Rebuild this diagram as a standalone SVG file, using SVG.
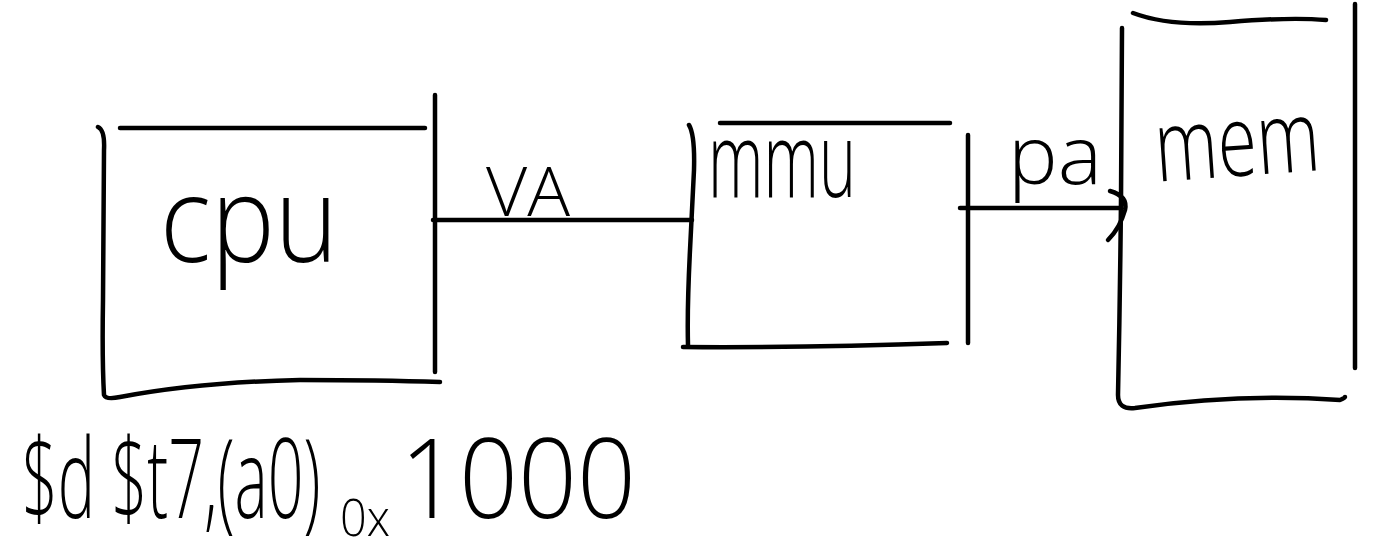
<svg xmlns="http://www.w3.org/2000/svg" width="1392" height="555" viewBox="0 0 1392 555">
<style>
.s{fill:none;stroke:#000;stroke-width:4.5;stroke-linecap:round;stroke-linejoin:round}
.t{font-family:"Open Sans","Liberation Sans",sans-serif;font-weight:300;fill:#000}
</style>
<rect width="1392" height="555" fill="#fff"/>
<g id="cpu">
<path class="s" d="M98,127 Q105,130 104,150 L103,300 Q102,360 104,395 Q106,400 120,397 Q200,382 300,380 Q380,380 440,382"/>
<path class="s" d="M120,128 L425,128"/>
<path class="s" d="M435,95 L435,372"/>
<text class="t" x="160" y="262" font-size="120" textLength="178" lengthAdjust="spacingAndGlyphs">cpu</text>
</g>
<g id="mmu">
<path class="s" d="M689,125 Q695,135 694,170 L690,250 Q687,310 688,345"/>
<path class="s" d="M720,123 L950,123"/>
<path class="s" d="M683,347 Q800,348 947,343"/>
<path class="s" d="M968,135 L968,343"/>
<text class="t" x="708" y="197" font-size="105" textLength="148" lengthAdjust="spacingAndGlyphs">mmu</text>
</g>
<g id="mem">
<path class="s" d="M1133,13 Q1170,27 1230,22 Q1290,17 1326,20"/>
<path class="s" d="M1122,28 L1121,200 Q1120,300 1118,395 Q1118,410 1135,408 Q1240,393 1340,400 Q1345,398 1345,397"/>
<path class="s" d="M1355,4 L1355,368"/>
<text class="t" x="1155" y="176" font-size="100" textLength="165" lengthAdjust="spacingAndGlyphs" transform="rotate(-4 1237 150)">mem</text>
</g>
<g id="connectors">
<path class="s" d="M433,220 L692,220"/>
<text class="t" x="486" y="216" font-size="68" textLength="84" lengthAdjust="spacingAndGlyphs">VA</text>
<path class="s" d="M960,208 L1120,208"/>
<path class="s" d="M1110,191 Q1128,196 1125,210 Q1120,228 1108,240"/>
<text class="t" x="1008" y="184" font-size="82" textLength="94" lengthAdjust="spacingAndGlyphs">pa</text>
</g>
<g id="note">
<text class="t" font-size="110" transform="translate(22,518) scale(0.57,1)">$d $t7,(a0)</text>
<text class="t" font-size="52" transform="translate(340,536) scale(0.9,1)">0x</text>
<text class="t" font-size="110" transform="translate(400,518) scale(0.94,1)">1000</text>
</g>
</svg>
